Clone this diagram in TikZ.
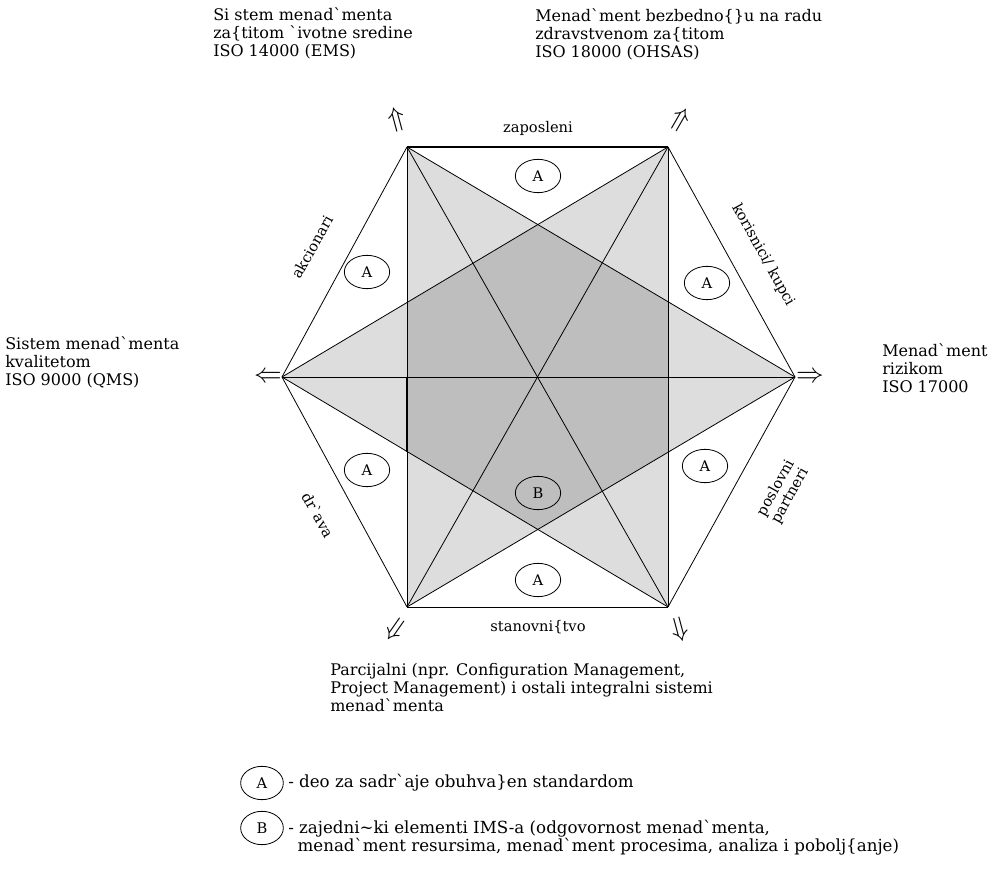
\documentclass[tikz,border=0pt]{standalone}
\usepackage{fontspec}
\newfontfamily\lab{DejaVu Serif}
\usetikzlibrary{calc,shapes.geometric}
\definecolor{shadeA}{HTML}{DDDDDD}
\definecolor{shadeB}{HTML}{BEBEBE}
\tikzset{
  edge/.style={draw=black, line width=0.6pt},
  txt/.style={font=\lab\fontsize{12}{13.5}\selectfont, inner sep=0pt, align=left},
  keytxt/.style={font=\lab\fontsize{12.5}{13.5}\selectfont, inner sep=0pt, align=left},
  side/.style={font=\lab\fontsize{11}{12}\selectfont, inner sep=0pt, align=center},
  circmark/.style={draw=black, line width=0.6pt, ellipse, minimum width=34pt, minimum height=25pt, inner sep=0pt, font=\lab\fontsize{11}{12}\selectfont},
  arr/.style={inner sep=0pt, font=\huge},
}
\begin{document}
\begin{tikzpicture}[x=0.75pt, y=-0.75pt]
\useasboundingbox (0,0) rectangle (990,884);

% hexagon corners
\coordinate (L)  at (282,377);
\coordinate (R)  at (795,377);
\coordinate (TL) at (407,147);
\coordinate (TR) at (668,147);
\coordinate (BL) at (407,607);
\coordinate (BR) at (668,607);
\coordinate (ML) at (407,377);
\coordinate (MLb) at (407,452);

% the two shaded triangles and their common part
\fill[shadeA] (L) -- (TR) -- (BR) -- cycle;
\fill[shadeA] (R) -- (TL) -- (BL) -- cycle;
\begin{scope}
  \clip (L) -- (TR) -- (BR) -- cycle;
  \fill[shadeB] (R) -- (TL) -- (BL) -- cycle;
\end{scope}

% outline of the hexagon
\draw[edge] (TL) -- (L) -- (BL);
\draw[edge] (TR) -- (R) -- (BR);
\draw[edge, line width=1.3pt] (TL) -- (TR);
\draw[edge] (BL) -- (BR);
% inner rectangle, diagonals, axis
\draw[edge] (TL) -- (BL);
\draw[edge] (TR) -- (BR);
\draw[edge] (TL) -- (BR);
\draw[edge] (TR) -- (BL);
\draw[edge] (L) -- (R);
% triangles
\draw[edge] (L) -- (TR);
\draw[edge] (L) -- (BR);
\draw[edge] (R) -- (TL);
\draw[edge] (R) -- (BL);
\draw[edge, line width=1.5pt] (ML) -- (MLb);

% marks on the sides
\node[circmark] (aT)  at (538,176) {A};
\node[circmark] (aTL) at (367,272) {A};
\node[circmark] (aTR) at (707,283) {A};
\node[circmark] (aBL) at (367,470) {A};
\node[circmark] (aBR) at (705,466) {A};
\node[circmark] (aB)  at (538,580) {A};
\node[circmark] (bC)  at (538,493) {B};

% side labels
\node[side] (sT) at (538,128) {zaposleni};
\node[side] (sB) at (538,627) {stanovni\{tvo};
\node[side, rotate=61]  (sTL) at (312,247) {akcionari};
\node[side, rotate=-61] (sTR) at (763,255) {korisnici/ kupci};
\node[side, rotate=-61] (sBL) at (318,515) {dr`ava};
\node[side, rotate=61]  (sBR) at (783,492) {poslovni\\partneri};

% arrows towards the systems
\node[arr] (pL)  at (268,377) {$\Leftarrow$};
\node[arr] (pR)  at (810,377) {$\Rightarrow$};
\node[arr, rotate=15]  (pTL) at (397,120) {$\Uparrow$};
\node[arr, rotate=-30] (pTR) at (680,120) {$\Uparrow$};
\node[arr, rotate=-35] (pBL) at (395,630) {$\Downarrow$};
\node[arr, rotate=15]  (pBR) at (680,630) {$\Downarrow$};

% systems
\node[txt, anchor=west] (tTL) at (213,33) {Si stem menad`menta\\za\{titom `ivotne sredine\\ISO 14000 (EMS)};
\node[txt, anchor=west] (tTR) at (535,34) {Menad`ment bezbedno\{\}u na radu\\zdravstvenom za\{titom\\ISO 18000 (OHSAS)};
\node[txt, anchor=west] (tL) at (5,362) {Sistem menad`menta\\kvalitetom\\ISO 9000 (QMS)};
\node[txt, anchor=west] (tR) at (882,368) {Menad`ment\\rizikom\\ISO 17000};
\node[txt, anchor=west] (tB) at (330,688) {Parcijalni (npr. Configuration Management,\\Project Management) i ostali integralni sistemi\\menad`menta};

% legend
\node[circmark, minimum width=32pt, minimum height=25pt] (kA) at (262,783) {A};
\node[keytxt, anchor=west] (kAt) at (288,783) {- deo za sadr`aje obuhva\}en standardom};
\node[circmark, minimum width=32pt, minimum height=25pt] (kB) at (262,828) {B};
\node[keytxt, anchor=north west] (kBt) at (288,820) {- zajedni\textasciitilde ki elementi IMS-a (odgovornost menad`menta,\\\hspace*{7pt}menad`ment resursima, menad`ment procesima, analiza i pobolj\{anje)};
\end{tikzpicture}
\end{document}
